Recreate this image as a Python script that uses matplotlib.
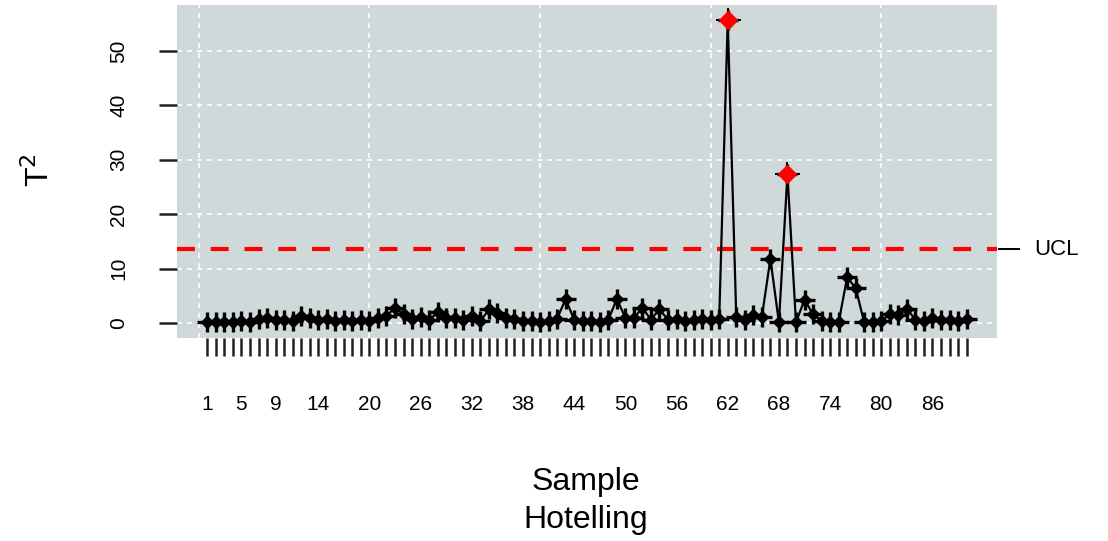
import matplotlib
matplotlib.use("Agg")
from matplotlib import pyplot as plt

# Hotelling T2 values for each sample
samples = list(range(1, 91))
t2 = [0.2, 0.1, 0.2, 0.1, 0.3, 0.2, 0.7, 0.9, 0.5, 0.6,
      0.4, 1.2, 0.9, 0.6, 0.8, 0.4, 0.5, 0.3, 0.6, 0.4,
      1.0, 1.3, 2.8, 1.6, 0.7, 1.1, 0.5, 2.0, 0.9, 1.0,
      0.6, 1.2, 0.3, 2.5, 1.8, 0.9, 0.8, 0.4, 0.3, 0.2,
      0.3, 0.8, 4.4, 0.6, 0.4, 0.3, 0.2, 0.6, 4.4, 1.0,
      0.9, 2.8, 0.6, 2.6, 0.5, 0.7, 0.4, 0.6, 0.8, 0.6,
      0.7, 55.7, 1.1, 0.6, 1.4, 1.1, 11.8, 0.1, 27.3, 0.1,
      4.3, 1.6, 0.4, 0.1, 0.1, 8.4, 6.4, 0.1, 0.2, 0.3,
      1.7, 1.5, 2.6, 0.6, 0.4, 0.9, 0.5, 0.6, 0.3, 0.7]
ucl = 13.6
xlabels = [1, 5, 9, 14, 20, 26, 32, 38, 44, 50, 56, 62, 68, 74, 80, 86]

fnt = "Liberation Sans"
plt.rcParams['font.family'] = [fnt, 'DejaVu Sans']

fig = plt.figure(figsize=(11.08, 5.41), dpi=100)
ax = fig.add_axes([0.1597, 0.3752, 0.7401, 0.6156])
ax.set_facecolor("#cfd9d9")
for s in ax.spines.values():
    s.set_visible(False)

ax.set_xlim(-2.56, 93.56)
ax.set_ylim(-2.76, 58.45)

# grid
for gx in [0, 20, 40, 60, 80]:
    ax.axvline(gx, color="white", ls=(0, (3, 3)), lw=1.2, zorder=1)
for gy in [0, 10, 20, 30, 40, 50]:
    ax.axhline(gy, color="white", ls=(0, (3, 3)), lw=1.2, zorder=1)

ax.axhline(ucl, color="#ff0000", lw=3, ls=(0, (4.3, 3.8)), zorder=2)

ax.plot(samples, t2, color="black", lw=1.6, zorder=3)
ax.plot(samples, t2, ls="None", marker="+", ms=14, mew=2.4, color="black", zorder=4)
ax.plot(samples, t2, ls="None", marker="D", ms=6.5, color="black", zorder=5)

out_x = [s for s, v in zip(samples, t2) if v > ucl]
out_y = [v for v in t2 if v > ucl]
ax.plot(out_x, out_y, ls="None", marker="+", ms=18, mew=1.4, color="black", zorder=6)
ax.plot(out_x, out_y, ls="None", marker="D", ms=9.5, color="#ff0000", zorder=7)

ax.set_xticks(samples)
ax.set_xticklabels([str(s) if s in xlabels else "" for s in samples])
ax.tick_params(axis="x", length=13, width=1.8, color="#222222", pad=28, labelsize=15)
ax.set_yticks([0, 10, 20, 30, 40, 50])
ax.set_yticklabels(["0", "10", "20", "30", "40", "50"], rotation=90, va="center")
ax.tick_params(axis="y", length=13, width=1.8, color="#222222", pad=22, labelsize=15)

# UCL marker on right
ax.plot([1.003, 1.027], [ucl, ucl], color="black", lw=1.4,
        transform=ax.get_yaxis_transform(), clip_on=False)
ax.text(1.046, ucl, "UCL", transform=ax.get_yaxis_transform(),
        fontsize=16, va="center", ha="left")

fig.text(40 / 1108, 1 - 170 / 541, "T$^2$", rotation=90, fontsize=23,
         ha="center", va="center")
fig.text(586 / 1108, 1 - 482 / 541, "Sample", fontsize=23, ha="center", va="center")
fig.text(586 / 1108, 1 - 520 / 541, "Hotelling", fontsize=23, ha="center", va="center")

fig.savefig("out.png", dpi=100)
